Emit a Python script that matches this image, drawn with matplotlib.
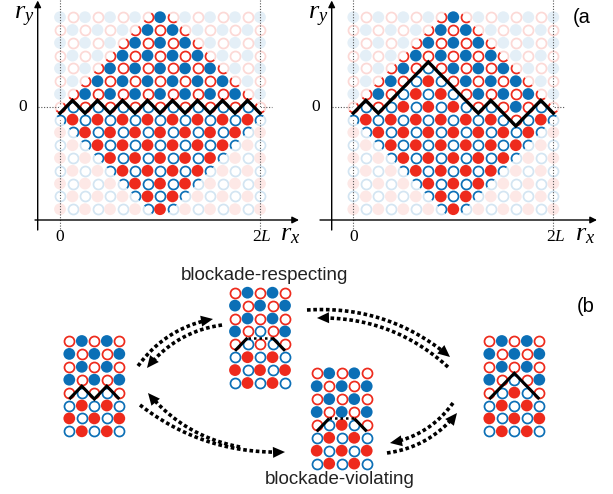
import numpy as np
import matplotlib
matplotlib.use("Agg")
import matplotlib.pyplot as plt
from matplotlib.patches import Polygon
from matplotlib.colors import to_rgb

plt.rcParams['mathtext.fontset'] = 'custom'
plt.rcParams['mathtext.rm'] = 'Liberation Serif'
plt.rcParams['mathtext.it'] = 'Liberation Serif:italic'

# ---------------- data ----------------
# panel (a): lattice sites r_x = 0..2L (17 columns), r_y = 7..-8 (16 rows)
rx_sites = list(range(0, 17))
ry_sites = list(range(7, -9, -1))
# domain-wall height at each r_x
height_flat = [-0.5, 0.5, -0.5, 0.5, -0.5, 0.5, -0.5, 0.5, -0.5,
               0.5, -0.5, 0.5, -0.5, 0.5, -0.5, 0.5, -0.5]
height_excited = [-0.5, 0.5, -0.5, 0.5, 1.5, 2.5, 3.5, 2.5, 1.5,
                  0.5, -0.5, 0.5, -0.5, -1.5, -0.5, 0.5, -0.5]
# light-cone (diamond) corners in lattice units
diamond = [(-0.5, -0.5), (8, 8), (16.5, -0.5), (8, -9)]
xtick_pos = [0, 16]
xtick_labels = ['0', '2$L$']

# panel (b): 5x8 configurations, B/R = filled, b/r = open
config_start = ["rBrBr", "BrBrB", "rBrBr", "BrBrB", "rbrbr", "bRbRb", "RbRbR", "bRbRb"]
config_respect = ["rBrBr", "BrBrB", "rBrBr", "BrbrB", "rbrbr", "bRbRb", "RbRbR", "bRbRb"]
config_violate = ["rBrBr", "BrBrB", "rBrBr", "BrBrB", "rbRbr", "bRbRb", "RbRbR", "bRbRb"]
config_end = ["rBrBr", "BrBrB", "rBrBr", "BrbrB", "rbRbr", "bRbRb", "RbRbR", "bRbRb"]
wall_start = [[(0, -0.5), (1, 0.5), (2, -0.5), (3, 0.5), (4, -0.5)]]
wall_mid = [[(0, -0.5), (1, 0.5)], [(3, 0.5), (4, -0.5)]]
wall_mid_dotted = [(1, 0.5), (3, 0.5)]
wall_end = [[(0, -0.5), (2, 1.5), (4, -0.5)]]
label_respect = "blockade-respecting"
label_violate = "blockade-violating"

# ---------------- figure ----------------
W, H = 613, 494
fig = plt.figure(figsize=(W / 100, H / 100), dpi=100)
ax = fig.add_axes([0, 0, 1, 1])
ax.set_xlim(0, W)
ax.set_ylim(H, 0)
ax.axis('off')

BLUE = '#0b6fb6'
RED = '#ee2a1c'


def pale(c, a=0.12):
    r = np.array(to_rgb(c))
    return tuple(1 - a * (1 - r))


S_FILL = 72
S_OPEN = 52
LW_OPEN = 1.25


def draw_sites(px, py, codes, faded=False, clip=None, z=3):
    px = np.asarray(px, float)
    py = np.asarray(py, float)
    codes = np.asarray(codes)
    for code in 'BbRr':
        m = codes == code
        if not m.any():
            continue
        col = BLUE if code in 'Bb' else RED
        if faded:
            col = pale(col, 0.11 if code.isupper() else 0.18)
        if code.isupper():
            sc = ax.scatter(px[m], py[m], s=S_FILL, facecolors=[col],
                            edgecolors='none', zorder=z)
        else:
            sc = ax.scatter(px[m], py[m], s=S_OPEN, facecolors='white',
                            edgecolors=[col], linewidths=LW_OPEN, zorder=z)
        if clip is not None:
            sc.set_clip_path(clip)


# ---------------- panel (a) ----------------
DX_A, DY_A, Y0_A = 12.5, 12.8, 106.8
panels_a = [
    dict(x0=60.0, h=height_flat, yax=37.7, xl=35, xr=299, ry=(24, 16), rx=(290, 233), zl=23),
    dict(x0=353.3, h=height_excited, yax=331.7, xl=320, xr=597, ry=(318, 16), rx=(585, 233), zl=316),
]
serif = 'Liberation Serif'
for P in panels_a:
    x0 = P['x0']
    C, Y = np.meshgrid(rx_sites, ry_sites)
    C = C.ravel()
    Y = Y.ravel()
    hh = np.array(P['h'])[C]
    above = Y > hh
    q = (C + Y) % 2
    codes = np.where(q == 1, np.where(above, 'B', 'b'), np.where(above, 'r', 'R'))
    px = x0 + DX_A * C
    py = Y0_A - DY_A * Y
    draw_sites(px, py, codes, faded=True, z=1)
    # guide lines
    gk = dict(color='#555555', lw=0.8, ls=(0, (1, 1.5)), zorder=1.5)
    ax.plot([x0, x0], [0, 229], **gk)
    ax.plot([x0 + DX_A * 16, x0 + DX_A * 16], [0, 229], **gk)
    ax.plot([P['yax'], x0 + DX_A * 16 + 12], [Y0_A, Y0_A], **gk)
    poly = [(x0 + DX_A * a, Y0_A - DY_A * b) for a, b in diamond]
    ax.add_patch(Polygon(poly, closed=True, fc='white', ec='none', zorder=2))
    clip = Polygon(poly, closed=True, transform=ax.transData)
    draw_sites(px, py, codes, clip=clip, z=3)
    ax.plot(x0 + DX_A * np.array(rx_sites), Y0_A - DY_A * np.array(P['h']),
            color='k', lw=2.4, zorder=5, solid_joinstyle='miter')
    # axes
    ak = dict(arrowstyle='-|>', color='k', lw=1.0, mutation_scale=10,
              shrinkA=0, shrinkB=0)
    ax.annotate('', xy=(P['yax'], 0.5), xytext=(P['yax'], 230), arrowprops=ak, zorder=6)
    ax.annotate('', xy=(P['xr'], 220), xytext=(P['xl'], 220), arrowprops=ak, zorder=6)
    ax.text(*P['ry'], '$r_y$', fontsize=19, ha='center', va='center')
    ax.text(*P['rx'], '$r_x$', fontsize=19, ha='center', va='center')
    ax.text(P['zl'], Y0_A, '0', fontsize=12.5, family=serif, ha='center', va='center')
    for t, lab in zip(xtick_pos, xtick_labels):
        ax.text(x0 + DX_A * t + (2 if t else 0), 237, lab, fontsize=12.5, family=serif,
                ha='center', va='center')

sans = 'Liberation Sans'
ax.text(573, 23, '(a', fontsize=14.5, family=sans, ha='left', va='baseline')
ax.text(577, 312, '(b', fontsize=14.5, family=sans, ha='left', va='baseline')

# ---------------- panel (b) ----------------
DX_B, DY_B = 12.5, 12.9
lattices_b = [
    (config_start, (69.3, 341.0), wall_start, None),
    (config_respect, (235.0, 292.7), wall_mid, wall_mid_dotted),
    (config_violate, (316.7, 373.3), wall_mid, wall_mid_dotted),
    (config_end, (489.3, 341.0), wall_end, None),
]
for cfg, (x0, y0), walls, dotted in lattices_b:
    xs, ys, cs = [], [], []
    for r, row in enumerate(cfg):
        for c, ch in enumerate(row):
            xs.append(x0 + DX_B * c)
            ys.append(y0 + DY_B * r)
            cs.append(ch)
    draw_sites(xs, ys, cs, z=3)
    for seg in walls:
        seg = np.array(seg)
        ax.plot(x0 + DX_B * seg[:, 0], y0 + DY_B * (4 - seg[:, 1]), color='k',
                lw=2.2, zorder=5, solid_joinstyle='miter', solid_capstyle='butt')
    if dotted is not None:
        seg = np.array(dotted)
        ax.plot(x0 + DX_B * seg[:, 0], y0 + DY_B * (4 - seg[:, 1]), color='k',
                lw=1.8, ls=(0, (1, 1.2)), zorder=5)

ax.text(264, 280, label_respect, fontsize=13.5, family=sans, ha='center', va='baseline', color='#222222')
ax.text(340, 484, label_violate, fontsize=13.5, family=sans, ha='center', va='baseline', color='#222222')

HEAD_L, HEAD_W = 12.0, 5.5
CENTER = np.array([298.0, 383.0])


def curved_arrow(p0, p1, rad):
    p0 = np.array(p0, float)
    p1 = np.array(p1, float)
    mid = (p0 + p1) / 2
    d = p1 - p0
    L = np.hypot(*d)
    n = np.array([-d[1], d[0]]) / L
    if np.dot(n, mid - CENTER) < 0:
        n = -n
    ctrl = mid + rad * L * n
    t = np.linspace(0, 1, 300)[:, None]
    pts = (1 - t) ** 2 * p0 + 2 * (1 - t) * t * ctrl + t ** 2 * p1
    dist = np.hypot(*(pts - p1).T)
    keep = dist > HEAD_L * 0.8
    ax.plot(pts[keep, 0], pts[keep, 1], color='k', lw=2.6, ls=(0, (1, 0.75)),
            dash_capstyle='butt', zorder=6)
    tang = p1 - ctrl
    tang /= np.hypot(*tang)
    perp = np.array([-tang[1], tang[0]])
    base = p1 - HEAD_L * tang
    ax.add_patch(Polygon([p1, base + HEAD_W * perp, base - HEAD_W * perp],
                         closed=True, fc='k', ec='none', zorder=6))


arrows_b = [
    ((138, 366), (213, 319), 0.2),
    ((222, 325), (147, 368), 0.2),
    ((307, 310), (450, 357), 0.2),
    ((448, 367), (317, 318), 0.2),
    ((387, 453), (457, 413), 0.2),
    ((453, 403), (390, 443), 0.2),
    ((140, 405), (285, 452), 0.18),
    ((240, 447), (148, 393), 0.18),
]
for p0, p1, rad in arrows_b:
    curved_arrow(p0, p1, rad)

fig.savefig('out.png', dpi=100)
